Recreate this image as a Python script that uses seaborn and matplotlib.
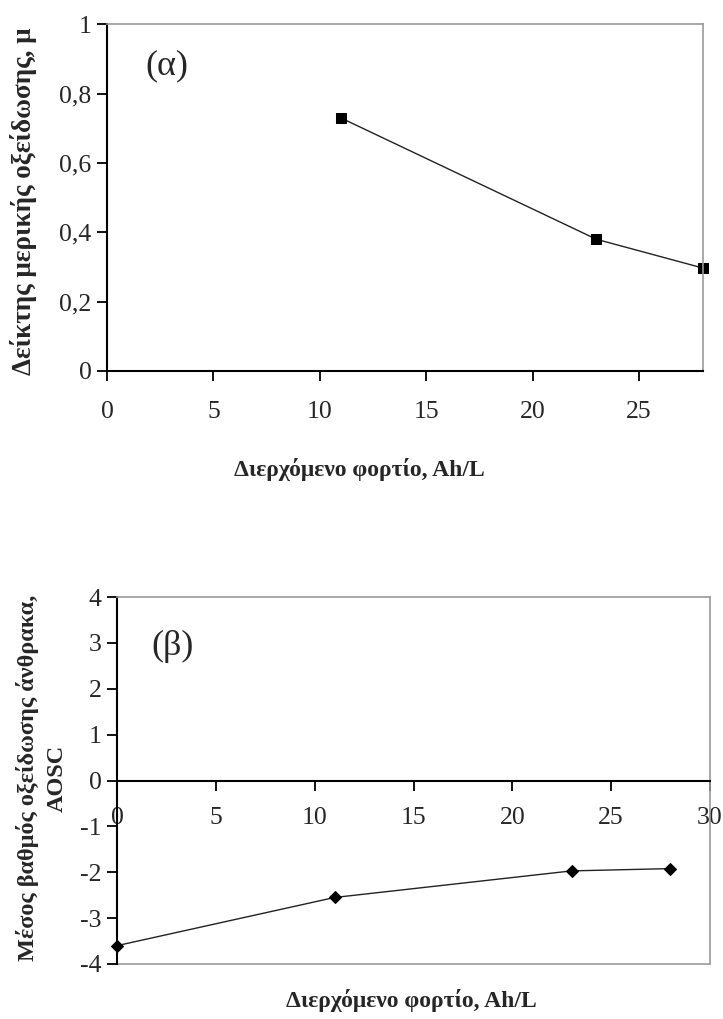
import numpy as np
import pandas as pd
import matplotlib
matplotlib.use("Agg")
import matplotlib.pyplot as plt
import seaborn as sns

# Data
charge_a = [11, 23, 28]
mu_values = [0.73, 0.38, 0.297]
charge_b = [0, 11, 23, 28]
aosc_values = [-3.6, -2.55, -1.97, -1.92]

xticks_a = [0, 5, 10, 15, 20, 25]
yticks_a = [0, 0.2, 0.4, 0.6, 0.8, 1]
ytick_labels_a = ["0", "0,2", "0,4", "0,6", "0,8", "1"]
xticks_b = [0, 5, 10, 15, 20, 25, 30]
yticks_b = [-4, -3, -2, -1, 0, 1, 2, 3, 4]

xlabel = "Διερχόμενο φορτίο, Ah/L"
ylabel_a = "Δείκτης μερικής οξείδωσης, μ"
ylabel_b = "Μέσος βαθμός οξείδωσης άνθρακα,\nAOSC"

sns.set_theme(style="white")
plt.rcParams['font.family'] = ['Liberation Serif', 'DejaVu Serif']
plt.rcParams['axes.unicode_minus'] = False

fig = plt.figure(figsize=(7.23, 10.19), dpi=100)
ax1 = fig.add_axes([0.148, 0.636, 0.824, 0.340])
ax2 = fig.add_axes([0.162, 0.054, 0.820, 0.360])

gray = "#9a9a9a"
tick_fs = 18.5

# ---- Panel (a)
df_a = pd.DataFrame({"x": charge_a, "y": mu_values})
sns.lineplot(data=df_a, x="x", y="y", ax=ax1, color="#222222", linewidth=1.0,
             marker="s", markersize=7, markeredgecolor="black",
             markerfacecolor="black", clip_on=False)
ax1.set_xlim(0, 28)
ax1.set_ylim(0, 1)
ax1.set_xticks(xticks_a)
ax1.set_yticks(yticks_a)
ax1.set_yticklabels(ytick_labels_a)
for s in ["top", "right"]:
    ax1.spines[s].set_color(gray)
    ax1.spines[s].set_linewidth(1.2)
for s in ["left", "bottom"]:
    ax1.spines[s].set_color("black")
    ax1.spines[s].set_linewidth(1.5)
ax1.tick_params(axis="both", direction="out", length=7, width=1.3, color="black",
                labelsize=tick_fs, left=True, bottom=True)
ax1.tick_params(axis="x", pad=15)
ax1.tick_params(axis="y", pad=4)
ax1.set_xlabel(xlabel, fontsize=17, fontweight="bold")
ax1.set_ylabel(ylabel_a, fontsize=19.5, fontweight="bold")
ax1.xaxis.set_label_coords(0.424, -0.25)
ax1.yaxis.set_label_coords(-0.117, 0.49)
ax1.text(0.10, 0.88, "(α)", transform=ax1.transAxes, fontsize=26,
         ha="center", va="center")

# ---- Panel (b)
df_b = pd.DataFrame({"x": charge_b, "y": aosc_values})
sns.lineplot(data=df_b, x="x", y="y", ax=ax2, color="#222222", linewidth=1.0,
             marker="D", markersize=6.5, markeredgecolor="black",
             markerfacecolor="black", clip_on=False)
ax2.set_xlim(0, 30)
ax2.set_ylim(-4, 4)
ax2.set_xticks(xticks_b)
ax2.set_yticks(yticks_b)
ax2.spines["bottom"].set_position(("data", 0))
ax2.spines["bottom"].set_color("black")
ax2.spines["bottom"].set_linewidth(1.5)
ax2.spines["left"].set_color("black")
ax2.spines["left"].set_linewidth(1.5)
for s in ["top", "right"]:
    ax2.spines[s].set_color(gray)
    ax2.spines[s].set_linewidth(1.2)
ax2.plot([0, 1], [0, 0], transform=ax2.transAxes, color=gray, linewidth=1.2,
         clip_on=False, zorder=0)
ax2.tick_params(axis="both", direction="out", length=7, width=1.3, color="black",
                labelsize=tick_fs, left=True, bottom=True)
ax2.tick_params(axis="x", pad=12)
ax2.tick_params(axis="y", pad=4)
ax2.set_xlabel(xlabel, fontsize=17, fontweight="bold")
ax2.set_ylabel(ylabel_b, fontsize=17.5, fontweight="bold", linespacing=1.45)
ax2.xaxis.set_label_coords(0.497, -0.068)
ax2.yaxis.set_label_coords(-0.084, 0.507)
ax2.text(0.093, 0.866, "(β)", transform=ax2.transAxes, fontsize=26,
         ha="center", va="center")

fig.savefig("out.png", dpi=100, facecolor="white")
